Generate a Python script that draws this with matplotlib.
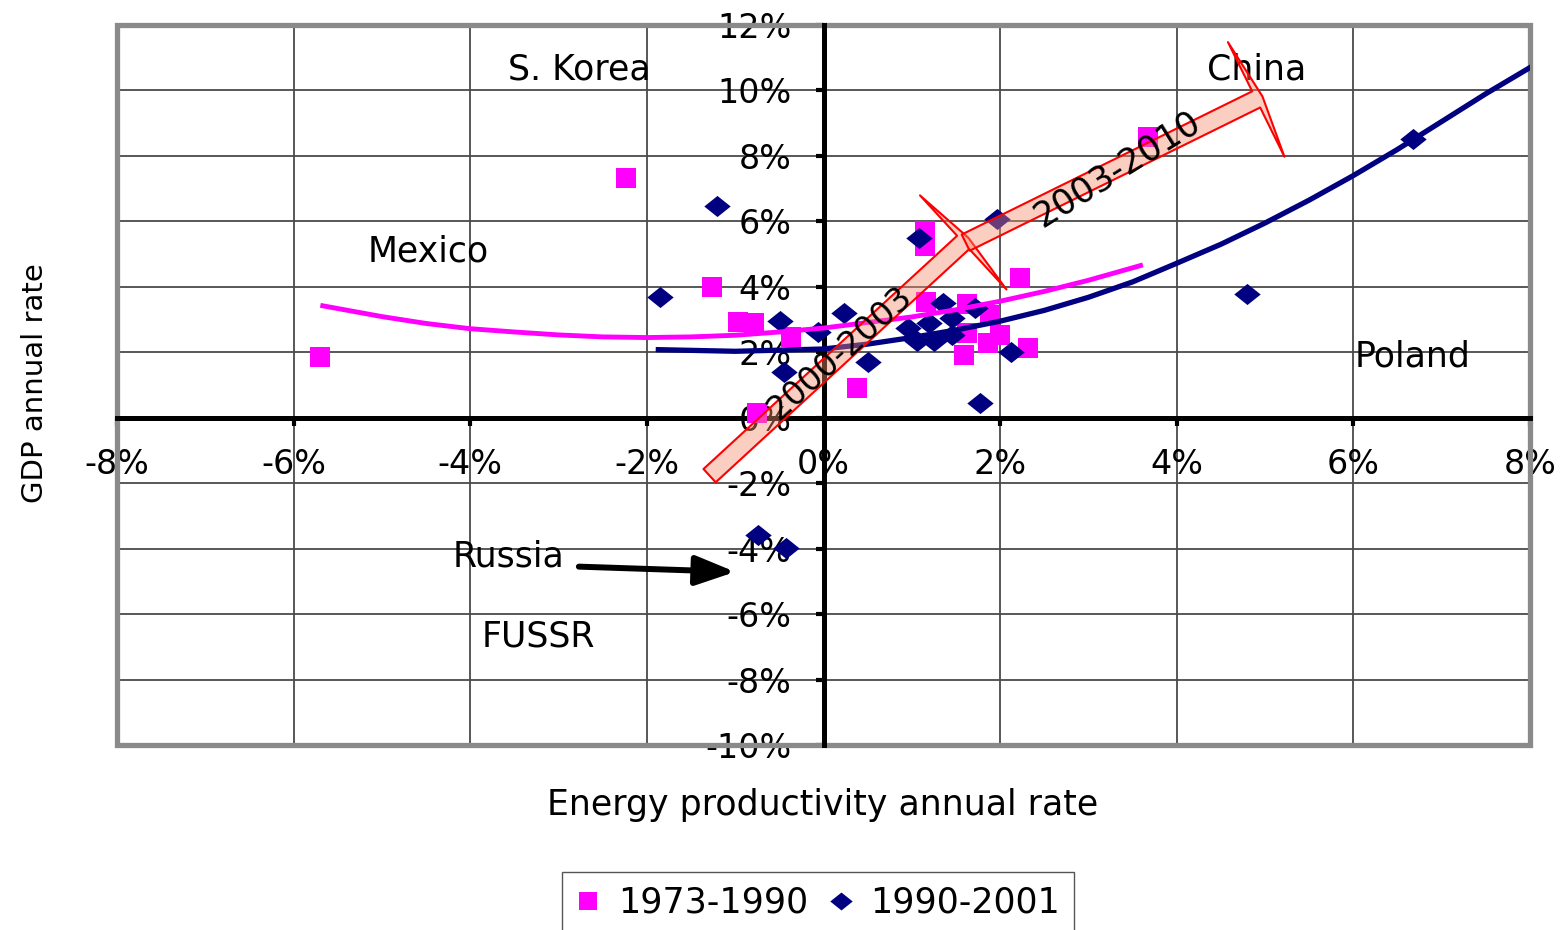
import numpy as np
import matplotlib.pyplot as plt
from matplotlib.patches import FancyArrowPatch, Rectangle
from matplotlib.path import Path

# 1973-1990 (magenta squares): energy productivity rate, GDP rate (%)
x_7390 = [-5.70, -2.24, -1.26, -0.97, -0.79, -0.37, -0.75, 0.38, 1.15, 1.15,
          1.16, 1.63, 1.89, 2.00, 1.59, 1.86, 2.31, 1.63, 2.23, 3.67]
y_7390 = [1.87, 7.34, 4.00, 2.94, 2.90, 2.48, 0.15, 0.92, 5.70, 5.25,
          3.55, 3.46, 3.15, 2.54, 1.93, 2.29, 2.14, 2.60, 4.28, 8.59]

# 1990-2001 (navy diamonds)
x_9001 = [-1.85, -1.21, -0.49, -0.45, -0.74, -0.42, -0.06, 0.23, 0.50, 1.08,
          1.96, 1.77, 2.12, 4.79, 6.67, 1.35, 1.72, 1.46, 0.96, 1.19,
          1.06, 1.25, 1.46]
y_9001 = [3.70, 6.48, 2.97, 1.40, -3.58, -3.98, 2.63, 3.20, 1.71, 5.50,
          6.06, 0.46, 2.02, 3.79, 8.53, 3.52, 3.36, 3.06, 2.75, 2.90,
          2.33, 2.33, 2.54]

# trend lines
trend_x_7390 = [-5.67, -5.0, -4.5, -4.0, -3.5, -3.0, -2.5, -2.0, -1.5, -1.0, -0.5,
                0.0, 0.5, 1.0, 1.5, 2.0, 2.5, 3.0, 3.59]
trend_y_7390 = [3.42, 3.09, 2.88, 2.72, 2.62, 2.53, 2.47, 2.45, 2.47, 2.52, 2.62,
                2.74, 2.91, 3.08, 3.30, 3.56, 3.86, 4.20, 4.65]
trend_x_9001 = [-1.87, -1.0, 0.0, 0.5, 1.0, 1.5, 2.0, 2.5, 3.0, 3.5, 4.0, 4.5,
                5.0, 5.5, 6.0, 6.5, 7.0, 7.5, 8.0]
trend_y_9001 = [2.08, 2.03, 2.10, 2.25, 2.45, 2.68, 2.95, 3.28, 3.68, 4.15, 4.72,
                5.30, 5.95, 6.65, 7.40, 8.20, 9.05, 9.90, 10.70]

xticks = np.arange(-8, 9, 2)
yticks = np.arange(-10, 13, 2)

magenta = "#ff00ff"
navy = "#000080"

fig = plt.figure(figsize=(15.6, 9.3), dpi=100)
ax = fig.add_axes([117/1560, 1-745/930, (1530-117)/1560, (745-25)/930])

ax.set_xlim(-8, 8)
ax.set_ylim(-10, 12)
ax.set_xticks(xticks)
ax.set_yticks(yticks)
ax.set_xticklabels(["%d%%" % v for v in xticks])
ax.set_yticklabels(["%d%%" % v for v in yticks])
ax.grid(True, color="#4a4a4a", lw=1.3, zorder=0.5)
ax.set_axisbelow(True)

for s in ["top", "right"]:
    ax.spines[s].set_visible(False)
for s in ["left", "bottom"]:
    ax.spines[s].set_position("zero")
    ax.spines[s].set_linewidth(3.6)
    ax.spines[s].set_color("black")
ax.tick_params(axis="both", direction="out", length=6, width=3, color="black",
               labelsize=24)
ax.tick_params(axis="y", pad=17)
ax.tick_params(axis="x", pad=16)

# grey frame round the plot area
ax.add_patch(Rectangle((0, 0), 1, 1, transform=ax.transAxes, fill=False,
                       edgecolor="#8a8a8a", lw=3.8, clip_on=False, zorder=1))

diamond = Path([(-1, 0), (0, 0.8), (1, 0), (0, -0.8), (-1, 0)])

ax.plot(x_7390, y_7390, ls="none", marker="s", ms=15, mew=0, color=magenta,
        label="1973-1990", zorder=3)
ax.plot(x_9001, y_9001, ls="none", marker=diamond, ms=19, mew=0, color=navy,
        label="1990-2001", zorder=3.5)
ax.plot(trend_x_7390, trend_y_7390, color=magenta, lw=3.5, zorder=4)
ax.plot(trend_x_9001, trend_y_9001, color=navy, lw=3.8, zorder=4)

# block arrows
arrow_kw = dict(arrowstyle="simple,head_length=5,head_width=92,tail_width=13",
                facecolor=(0.97, 0.55, 0.43, 0.42), edgecolor="red", lw=1.5,
                shrinkA=0, shrinkB=0, mutation_scale=1, zorder=5)
ax.add_patch(FancyArrowPatch((-1.29, -1.77), (1.64, 5.50), **arrow_kw))
ax.add_patch(FancyArrowPatch((1.61, 5.35), (4.97, 9.82), **arrow_kw))
ax.text(0.18, 1.99, "2000-2003", fontsize=24, rotation=42, ha="center",
        va="center", zorder=6)
ax.text(3.33, 7.60, "2003-2010", fontsize=25, rotation=32, ha="center",
        va="center", zorder=6)

# country labels
ax.text(-2.77, 10.63, "S. Korea", fontsize=25, ha="center", va="center")
ax.text(4.90, 10.63, "China", fontsize=25, ha="center", va="center")
ax.text(-4.47, 5.07, "Mexico", fontsize=25, ha="center", va="center")
ax.text(6.67, 1.86, "Poland", fontsize=25, ha="center", va="center")
ax.text(-3.57, -4.25, "Russia", fontsize=25, ha="center", va="center")
ax.text(-3.23, -6.69, "FUSSR", fontsize=25, ha="center", va="center")
ax.annotate("", xy=(-1.0, -4.71), xytext=(-2.77, -4.55),
            arrowprops=dict(arrowstyle="-|>,head_length=0.8,head_width=0.3",
                            lw=4.3, color="black", mutation_scale=30,
                            shrinkA=0, shrinkB=0))

fig.text(35/1560, 1-383/930, "GDP annual rate", rotation=90, fontsize=21,
         ha="center", va="center")
fig.text(823/1560, 1-805/930, "Energy productivity annual rate", fontsize=25,
         ha="center", va="center")

fig.legend(loc="upper center", bbox_to_anchor=(818/1560, 1-872/930), ncol=2,
           fontsize=25, frameon=True, fancybox=False, edgecolor="#555555",
           framealpha=1, borderaxespad=0, borderpad=0.4, handlelength=0.7,
           handletextpad=0.5, columnspacing=0.6, markerscale=0.85)

fig.savefig("out.png", dpi=100)
